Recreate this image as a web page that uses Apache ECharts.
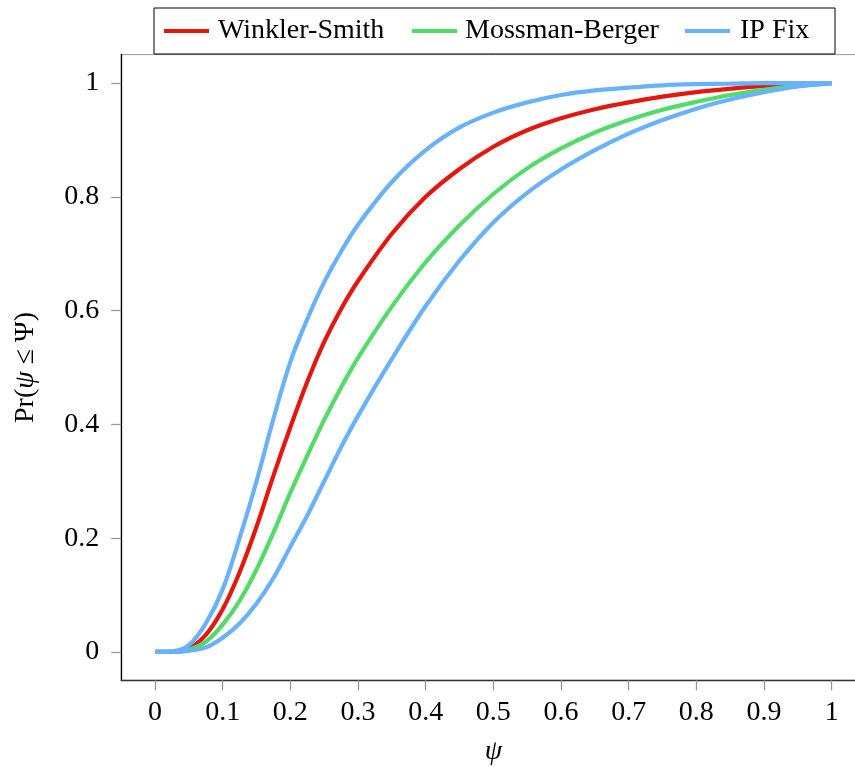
<!DOCTYPE html>
<html>
<head>
<meta charset="utf-8">
<script src="https://cdn.jsdelivr.net/npm/echarts@6/dist/echarts.min.js"></script>
<style>html,body{margin:0;padding:0;background:#fff}#c{width:855px;height:767px}</style>
</head>
<body>
<div id="c"></div>
<script>
var xs = [0, 0.025, 0.05, 0.075, 0.1, 0.125, 0.15, 0.175, 0.2, 0.225, 0.25, 0.275, 0.3, 0.35, 0.4, 0.45, 0.5, 0.55, 0.6, 0.65, 0.7, 0.75, 0.8, 0.85, 0.9, 0.95, 1];
var winklerSmith  = [0, 0, 0.006, 0.03, 0.075, 0.14, 0.22, 0.31, 0.395, 0.475, 0.545, 0.603, 0.652, 0.735, 0.8, 0.849, 0.888, 0.917, 0.938, 0.954, 0.966, 0.976, 0.984, 0.99, 0.995, 0.998, 1];
var mossmanBerger = [0, 0, 0.004, 0.018, 0.048, 0.09, 0.145, 0.21, 0.28, 0.345, 0.408, 0.465, 0.517, 0.607, 0.685, 0.75, 0.805, 0.85, 0.885, 0.913, 0.935, 0.953, 0.967, 0.979, 0.988, 0.995, 1];
var ipFixUpper    = [0, 0.001, 0.012, 0.05, 0.11, 0.2, 0.3, 0.41, 0.51, 0.585, 0.65, 0.704, 0.751, 0.826, 0.882, 0.922, 0.948, 0.966, 0.979, 0.987, 0.992, 0.996, 0.998, 0.999, 1, 1, 1];
var ipFixLower    = [0, 0, 0.002, 0.008, 0.025, 0.05, 0.085, 0.13, 0.185, 0.24, 0.3, 0.36, 0.415, 0.515, 0.608, 0.688, 0.755, 0.807, 0.848, 0.882, 0.911, 0.935, 0.955, 0.971, 0.984, 0.994, 1];
var xTicks = [0, 0.1, 0.2, 0.3, 0.4, 0.5, 0.6, 0.7, 0.8, 0.9, 1];
var yTicks = [0, 0.2, 0.4, 0.6, 0.8, 1];
var seriesNames = ['Winkler-Smith', 'Mossman-Berger', 'IP Fix'];

function pairs(ys){ return xs.map(function(x,i){ return [x, ys[i]]; }); }
function fmt(v){ return String(Math.round(v*10)/10); }

var FONT = 'Liberation Serif';
var RED = '#e3170e', GREEN = '#52db67', BLUE = '#68b1ff';

var chart = echarts.init(document.getElementById('c'), null, {renderer:'canvas'});
function line(name, ys, color){
  return {type:'line', name:name, data:pairs(ys), showSymbol:false, symbol:'none',
    smooth:0.35, lineStyle:{color:color, width:4.2}, itemStyle:{color:color}, z:2};
}
chart.setOption({
  animation:false,
  textStyle:{fontFamily:FONT},
  grid:{left:121.2, top:54.6, width:744.3, height:625.8, show:true, borderColor:'#999', borderWidth:1,
    containLabel:false, outerBoundsMode:'none'},
  legend:{
    data:seriesNames, left:154, top:8, orient:'horizontal',
    padding:[9,10,9,10], itemGap:0, itemWidth:45, itemHeight:4, icon:'rect',
    borderColor:'#000', borderWidth:1, backgroundColor:'#fff', z:10,
    formatter:function(n){ return n==='Winkler-Smith' ? '{a|'+n+'}' : (n==='Mossman-Berger' ? '{b|'+n+'}' : '{c|'+n+'}'); },
    textStyle:{fontFamily:FONT, fontSize:28, color:'#000',
      rich:{
        a:{fontFamily:FONT, fontSize:28, width:194, padding:[0,0,0,4], lineHeight:28},
        b:{fontFamily:FONT, fontSize:28, width:220, padding:[0,0,0,3], lineHeight:28},
        c:{fontFamily:FONT, fontSize:28, width:85, padding:[0,0,0,5], lineHeight:28}
      }}
  },
  xAxis:{type:'value', min:-0.05, max:1.05,
    name:'ψ', nameLocation:'middle', nameGap:57,
    nameTextStyle:{fontFamily:FONT, fontSize:28, fontStyle:'italic', color:'#000'},
    axisLine:{show:true, onZero:false, lineStyle:{color:'#333', width:1.3}},
    axisTick:{show:true, inside:false, length:10, lineStyle:{color:'#999', width:1.3}, customValues:xTicks},
    axisLabel:{show:true, margin:18, fontFamily:FONT, fontSize:28, color:'#000', customValues:xTicks, formatter:fmt},
    splitLine:{show:false}},
  yAxis:{type:'value', min:-0.05, max:1.05,
    name:'{r|Pr(}{i|ψ}{r| ≤ Ψ)}', nameLocation:'middle', nameGap:82, nameRotate:90,
    nameTextStyle:{fontFamily:FONT, fontSize:28, color:'#000',
      rich:{r:{fontFamily:FONT, fontSize:28, color:'#000'}, i:{fontFamily:FONT, fontSize:28, fontStyle:'italic', color:'#000'}}},
    axisLine:{show:true, onZero:false, lineStyle:{color:'#000', width:1.3}},
    axisTick:{show:true, inside:false, length:10, lineStyle:{color:'#999', width:1.3}, customValues:yTicks},
    axisLabel:{show:true, margin:22, fontFamily:FONT, fontSize:28, color:'#000', customValues:yTicks, formatter:fmt},
    splitLine:{show:false}},
  series:[
    line(seriesNames[0], winklerSmith, RED),
    line(seriesNames[1], mossmanBerger, GREEN),
    line(seriesNames[2], ipFixUpper, BLUE),
    line(seriesNames[2], ipFixLower, BLUE)
  ]
});
</script>
</body>
</html>
